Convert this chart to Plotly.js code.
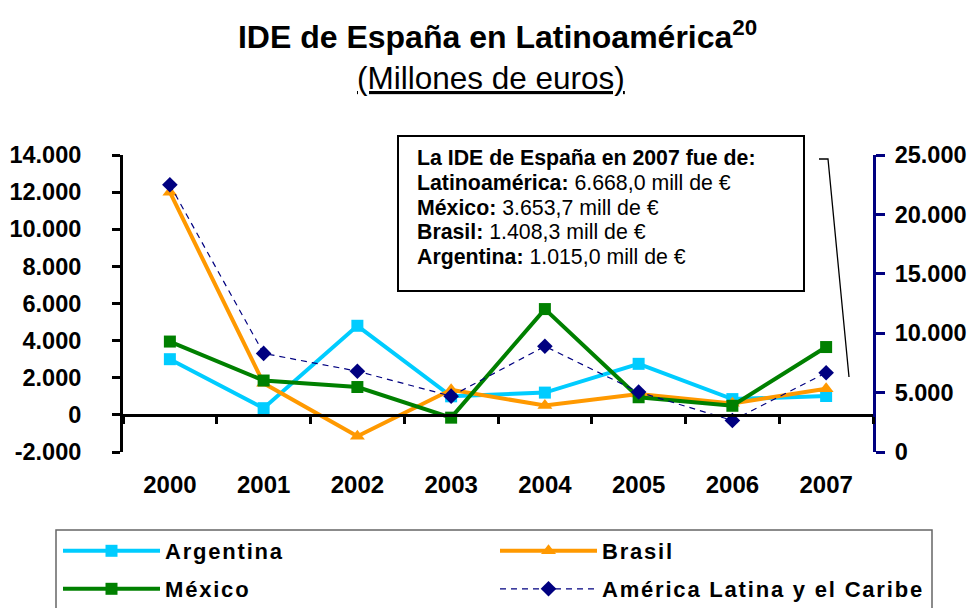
<!DOCTYPE html>
<html>
<head>
<meta charset="utf-8">
<script src="https://cdn.plot.ly/plotly-3.0.1.min.js"></script>
<style>
  html, body { margin: 0; padding: 0; background: #fff; }
  #chart { width: 970px; height: 608px; }
  text.legendtext, text.legendtext tspan, g.legend text, g.legend2 text { letter-spacing: 1.8px !important; }
</style>
</head>
<body>
<div id="chart"></div>
<script>
// ---- data ----
const years = ['2000', '2001', '2002', '2003', '2004', '2005', '2006', '2007'];
const argentina = [3000, 360, 4800, 1000, 1200, 2750, 850, 1015];
const brasil = [12000, 1700, -1150, 1350, 500, 1130, 620, 1408];
const mexico = [3950, 1850, 1500, -150, 5700, 950, 490, 3654];
const alc = [22500, 8300, 6800, 4700, 8900, 5050, 2650, 6668];

const leftTickVals = [-2000, 0, 2000, 4000, 6000, 8000, 10000, 12000, 14000];
const leftTickText = ['-2.000', '0', '2.000', '4.000', '6.000', '8.000', '10.000', '12.000', '14.000'];
const rightTickVals = [0, 5000, 10000, 15000, 20000, 25000];
const rightTickText = ['0', '5.000', '10.000', '15.000', '20.000', '25.000'];

const boxLabels = ['La IDE de España en 2007 fue de:', 'Latinoamérica:', 'México:', 'Brasil:', 'Argentina:'];
const boxValues = ['', '6.668,0 mill de €', '3.653,7 mill de €', '1.408,3 mill de €', '1.015,0 mill de €'];

const FONT = 'Liberation Sans, Arial, Helvetica, sans-serif';

const traces = [
  {
    name: 'Argentina', x: years, y: argentina, type: 'scatter', mode: 'lines+markers',
    line: { color: '#00CCFF', width: 4 },
    marker: { symbol: 'square', size: 12, color: '#00CCFF' },
    legend: 'legend'
  },
  {
    name: 'Brasil', x: years, y: brasil, type: 'scatter', mode: 'lines+markers',
    line: { color: '#FF9900', width: 4 },
    marker: { symbol: 'triangle-up', size: 13, color: '#FF9900' },
    legend: 'legend'
  },
  {
    name: 'México', x: years, y: mexico, type: 'scatter', mode: 'lines+markers',
    line: { color: '#008000', width: 4 },
    marker: { symbol: 'square', size: 12, color: '#008000' },
    legend: 'legend2'
  },
  {
    name: 'América Latina y el Caribe', x: years, y: alc, yaxis: 'y2', type: 'scatter', mode: 'lines+markers',
    line: { color: '#000080', width: 1.2, dash: '6px,5px' },
    marker: { symbol: 'diamond', size: 12, color: '#000080' },
    legend: 'legend2'
  }
];

// helpers to convert pixel position to paper coords (plot area 123..873 x, 155..452 y)
const L = 123, R = 873, T = 155, B = 452;
const px = v => (v - L) / (R - L);
const py = v => (B - v) / (B - T);

const boxY = [158, 183, 208, 232, 257];
const annotations = [
  {
    text: '<u>(Millones de euros)</u>', xref: 'paper', yref: 'paper',
    x: px(491), y: py(78), xanchor: 'center', yanchor: 'middle', showarrow: false,
    font: { family: FONT, size: 31.5, color: '#000' }
  }
];
boxLabels.forEach((lab, i) => {
  annotations.push({
    text: '<b>' + lab + '</b>' + (boxValues[i] ? ' ' + boxValues[i] : ''),
    xref: 'paper', yref: 'paper', x: px(415), y: py(boxY[i]),
    xanchor: 'left', yanchor: 'middle', showarrow: false, align: 'left',
    font: { family: FONT, size: 21.3, color: '#000' }
  });
});

const layout = {
  width: 970, height: 608,
  margin: { l: L, r: 970 - R, t: T, b: 608 - B, autoexpand: false },
  paper_bgcolor: '#fff', plot_bgcolor: '#fff',
  font: { family: FONT, color: '#000' },
  separators: ',.',
  title: {
    text: '<b>IDE de España en Latinoamérica<sup>20</sup></b>',
    font: { family: FONT, size: 32, color: '#000' },
    xref: 'container', x: 0.513, xanchor: 'center',
    yref: 'container', y: 1 - 37 / 608, yanchor: 'middle'
  },
  xaxis: {
    type: 'category', categoryarray: years, range: [-0.5, 7.5],
    anchor: 'free', position: 0.125,
    showline: true, linecolor: '#000', linewidth: 3,
    ticks: 'outside', tickson: 'boundaries', ticklen: 7, tickwidth: 3, tickcolor: '#000',
    showgrid: false, zeroline: false,
    tickfont: { family: FONT, size: 24, color: '#000', weight: 'bold' },
    ticklabelstandoff: 47
  },
  yaxis: {
    range: [-2000, 14000], tickvals: leftTickVals, ticktext: leftTickText,
    showline: true, linecolor: '#000', linewidth: 3,
    ticks: 'outside', ticklen: 8, tickwidth: 3, tickcolor: '#000',
    showgrid: false, zeroline: false,
    tickfont: { family: FONT, size: 23.5, color: '#000', weight: 'bold' },
    ticklabelstandoff: 26
  },
  yaxis2: {
    range: [0, 25000], tickvals: rightTickVals, ticktext: rightTickText,
    overlaying: 'y', side: 'right', anchor: 'x',
    showline: true, linecolor: '#000080', linewidth: 3,
    ticks: 'outside', ticklen: 9, tickwidth: 3, tickcolor: '#000080',
    showgrid: false, zeroline: false,
    tickfont: { family: FONT, size: 23.5, color: '#000', weight: 'bold' },
    ticklabelstandoff: 5
  },
  yaxis3: {
    range: [0, 25000], tickvals: rightTickVals,
    overlaying: 'y', side: 'right', anchor: 'x',
    showline: false, showticklabels: false,
    ticks: 'inside', ticklen: 9, tickwidth: 3, tickcolor: '#000080',
    showgrid: false, zeroline: false
  },
  legend: {
    orientation: 'h', xref: 'paper', yref: 'paper',
    x: px(58), xanchor: 'left', y: py(530), yanchor: 'top',
    entrywidth: 325, entrywidthmode: 'pixels', itemwidth: 97,
    bgcolor: 'rgba(0,0,0,0)', borderwidth: 0,
    font: { family: FONT, size: 22, color: '#000', weight: 'bold' }
  },
  legend2: {
    orientation: 'h', xref: 'paper', yref: 'paper',
    x: px(58), xanchor: 'left', y: py(568), yanchor: 'top',
    entrywidth: 325, entrywidthmode: 'pixels', itemwidth: 97,
    bgcolor: 'rgba(0,0,0,0)', borderwidth: 0,
    font: { family: FONT, size: 22, color: '#000', weight: 'bold' }
  },
  showlegend: true,
  shapes: [
    // text box
    { type: 'rect', xref: 'paper', yref: 'paper', x0: px(398), x1: px(804), y0: py(291), y1: py(136),
      line: { color: '#000', width: 2 }, fillcolor: 'rgba(255,255,255,0)', layer: 'above' },
    // callout line
    { type: 'path', xref: 'paper', yref: 'paper',
      path: 'M ' + px(819) + ' ' + py(159) + ' L ' + px(828) + ' ' + py(159) + ' L ' + px(849) + ' ' + py(377),
      line: { color: '#000', width: 1.3 } },
    // legend frame
    { type: 'rect', xref: 'paper', yref: 'paper', x0: px(56), x1: px(932), y0: py(640), y1: py(530),
      line: { color: '#666', width: 1.5 }, fillcolor: 'rgba(255,255,255,0)' }
  ],
  annotations: annotations
};

Plotly.newPlot('chart', traces, layout, { displayModeBar: false, staticPlot: true });
</script>
</body>
</html>
